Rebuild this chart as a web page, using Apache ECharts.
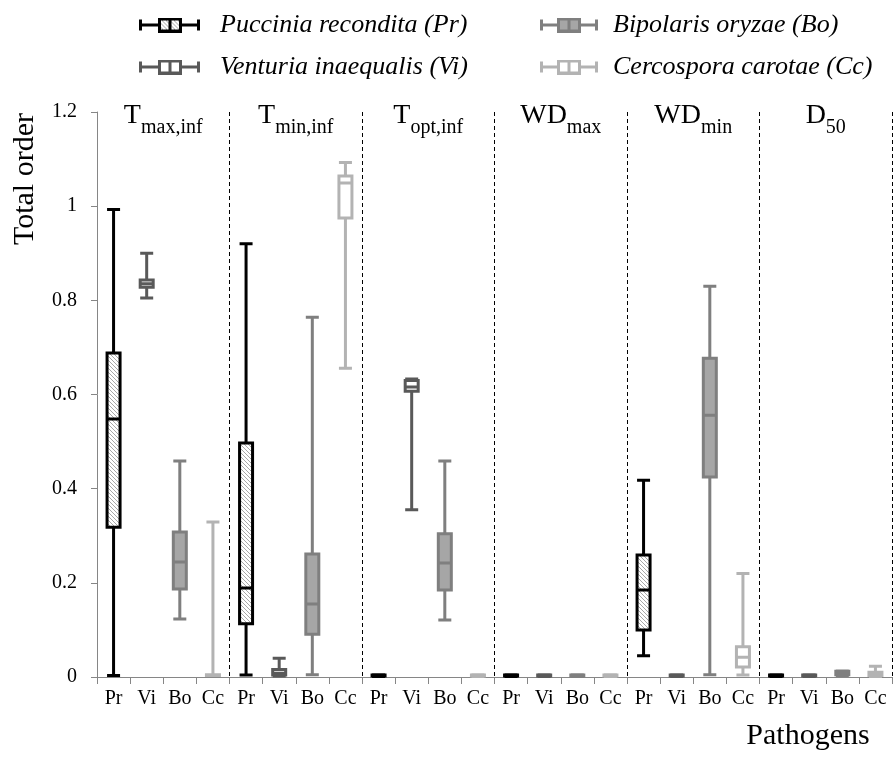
<!DOCTYPE html>
<html><head><meta charset="utf-8">
<script src="https://cdn.jsdelivr.net/npm/echarts@6/dist/echarts.min.js"></script>
<style>html,body{margin:0;padding:0;background:#fff}#c{width:896px;height:758px}</style>
</head><body><div id="c"></div>
<script>
// ---- data ----
const paramMain = ['T', 'T', 'T', 'WD', 'WD', 'D'];
const paramSub = ['max,inf', 'min,inf', 'opt,inf', 'max', 'min', '50'];
const pathogenCodes = ['Pr', 'Vi', 'Bo', 'Cc'];
const pathogenNames = ['Puccinia recondita (Pr)', 'Venturia inaequalis (Vi)', 'Bipolaris oryzae (Bo)', 'Cercospora carotae (Cc)'];
const yTicks = [0, 0.2, 0.4, 0.6, 0.8, 1, 1.2];
// five-number summaries [min, Q1, median, Q3, max] per parameter
const prBoxes = [
  [0.003, 0.318, 0.548, 0.688, 0.993],
  [0.004, 0.113, 0.189, 0.497, 0.920],
  [0.001, 0.002, 0.003, 0.004, 0.005],
  [0.001, 0.002, 0.003, 0.004, 0.005],
  [0.045, 0.100, 0.185, 0.259, 0.418],
  [0.001, 0.002, 0.003, 0.004, 0.005]
];
const viBoxes = [
  [0.805, 0.828, 0.835, 0.843, 0.900],
  [0.002, 0.004, 0.008, 0.016, 0.040],
  [0.355, 0.607, 0.616, 0.630, 0.633],
  [0.001, 0.002, 0.003, 0.004, 0.005],
  [0.001, 0.002, 0.003, 0.004, 0.005],
  [0.001, 0.002, 0.003, 0.004, 0.005]
];
const boBoxes = [
  [0.123, 0.187, 0.244, 0.308, 0.459],
  [0.005, 0.091, 0.155, 0.261, 0.764],
  [0.121, 0.185, 0.242, 0.304, 0.459],
  [0.001, 0.002, 0.003, 0.004, 0.005],
  [0.005, 0.425, 0.556, 0.677, 0.830],
  [0.003, 0.005, 0.008, 0.012, 0.013]
];
const ccBoxes = [
  [0.003, 0.003, 0.004, 0.005, 0.329],
  [0.656, 0.975, 1.049, 1.064, 1.093],
  [0.001, 0.002, 0.003, 0.004, 0.005],
  [0.001, 0.002, 0.003, 0.004, 0.005],
  [0.004, 0.021, 0.042, 0.064, 0.220],
  [0.001, 0.003, 0.006, 0.010, 0.023]
];
const boxesByPathogen = [prBoxes, viBoxes, boBoxes, ccBoxes];

// ---- styles ----
const FONT = '"Liberation Serif", "Times New Roman", serif';
function hatchTile() {
  const c = document.createElement('canvas'); c.width = 4; c.height = 4;
  const ctx = c.getContext('2d');
  ctx.fillStyle = '#ffffff'; ctx.fillRect(0, 0, 4, 4);
  ctx.fillStyle = '#a8a8a8';
  for (let i = 0; i < 4; i++) ctx.fillRect(i, i, 1, 1);
  return c;
}
const tile = hatchTile();
const strokes = ['#000000', '#595959', '#7f7f7f', '#b3b3b3'];
const fills = [{ image: tile, repeat: 'repeat' }, '#ffffff', '#a6a6a6', '#ffffff'];

function legendIcon(k, canvasW, iconW) {
  const c = document.createElement('canvas'); c.width = canvasW; c.height = 15;
  const ctx = c.getContext('2d');
  const col = strokes[k];
  const bx = Math.round(iconW / 2 - 11);
  ctx.fillStyle = col;
  ctx.fillRect(0, 2, 3, 11);            // left cap
  ctx.fillRect(0, 6, iconW, 3);         // whisker line
  ctx.fillRect(iconW - 3, 2, 3, 11);    // right cap
  if (k === 0) ctx.fillStyle = ctx.createPattern(tile, 'repeat');
  else ctx.fillStyle = k === 2 ? '#a6a6a6' : '#ffffff';
  ctx.fillRect(bx, 1, 22, 13);
  ctx.strokeStyle = col; ctx.lineWidth = 3;
  ctx.strokeRect(bx + 0.5, 1.5, 21, 12);
  ctx.fillStyle = col;
  ctx.fillRect(bx + 9.5, 1, 3, 13);
  return 'image://' + c.toDataURL();
}

// ---- build ----
const categories = [];
const boxData = [];
for (let g = 0; g < paramMain.length; g++) {
  for (let k = 0; k < pathogenCodes.length; k++) {
    categories.push(paramMain[g] + paramSub[g] + '|' + pathogenCodes[k]);
    boxData.push({
      value: boxesByPathogen[k][g],
      itemStyle: { color: fills[k], borderColor: strokes[k], borderWidth: 3 }
    });
  }
}
const titleCats = paramMain.map((m, i) => m + '|' + paramSub[i]);

const legendText = { fontFamily: FONT, fontStyle: 'italic', fontSize: 26, color: '#000' };
const chart = echarts.init(document.getElementById('c'), null, { renderer: 'canvas' });
chart.setOption({
  animation: false,
  backgroundColor: '#ffffff',
  textStyle: { fontFamily: FONT },
  grid: { left: 97, right: 4, top: 112, bottom: 81 },
  legend: [
    {
      left: 134, top: 7, orient: 'vertical', itemGap: 16,
      itemWidth: 76, itemHeight: 15, selectedMode: false,
      textStyle: legendText,
      data: [{ name: pathogenNames[0], icon: legendIcon(0, 76, 61) }, { name: pathogenNames[1], icon: legendIcon(1, 76, 61) }]
    },
    {
      left: 535, top: 7, orient: 'vertical', itemGap: 16,
      itemWidth: 68, itemHeight: 15, selectedMode: false,
      textStyle: legendText,
      data: [{ name: pathogenNames[2], icon: legendIcon(2, 68, 58) }, { name: pathogenNames[3], icon: legendIcon(3, 68, 58) }]
    }
  ],
  xAxis: [
    {
      type: 'category', data: categories, boundaryGap: true,
      axisLine: { lineStyle: { color: '#868686', width: 1 } },
      axisTick: { show: true, length: 7, interval: 0, lineStyle: { color: '#868686' } },
      axisLabel: {
        interval: 0, margin: 12, fontSize: 20, color: '#000', fontFamily: FONT,
        formatter: v => v.split('|')[1]
      },
      splitLine: {
        show: true,
        interval: (i) => i > 0 && i % 4 === 0,
        lineStyle: { color: '#000', type: [4, 3], width: 1 }
      }
    },
    {
      type: 'category', data: titleCats, position: 'top', offset: 10, boundaryGap: true,
      axisLine: { show: false }, axisTick: { show: false }, splitLine: { show: false },
      axisLabel: {
        inside: true, margin: 0, interval: 0, color: '#000',
        formatter: v => { const p = v.split('|'); return '{m|' + p[0] + '}{s|' + p[1] + '}'; },
        rich: {
          m: { fontSize: 28, lineHeight: 28, fontFamily: FONT, color: '#000', verticalAlign: 'top' },
          s: { fontSize: 20, lineHeight: 52, fontFamily: FONT, color: '#000', verticalAlign: 'middle' }
        }
      }
    }
  ],
  yAxis: {
    type: 'value', min: yTicks[0], max: yTicks[yTicks.length - 1], interval: 0.2,
    axisLine: { show: true, lineStyle: { color: '#868686', width: 1 } },
    axisTick: { show: true, length: 6, lineStyle: { color: '#868686' } },
    axisLabel: { fontSize: 20, color: '#000', margin: 20, fontFamily: FONT },
    splitLine: { show: false }
  },
  graphic: [
    { type: 'text', x: 25, y: 179, rotation: Math.PI / 2,
      style: { text: 'Total order', font: '30px ' + FONT, textAlign: 'center', textVerticalAlign: 'middle', align: 'center', verticalAlign: 'middle', fill: '#000' } },
    { type: 'text', x: 808, y: 736,
      style: { text: 'Pathogens', font: '30px ' + FONT, textAlign: 'center', textVerticalAlign: 'middle', align: 'center', verticalAlign: 'middle', fill: '#000' } }
  ],
  series: [
    {
      type: 'boxplot', name: 'boxes', xAxisIndex: 0, yAxisIndex: 0,
      boxWidth: [13, 13], data: boxData, silent: true,
      emphasis: { disabled: true }
    }
  ].concat(pathogenNames.map((n, k) => ({
    type: 'line', name: n, data: [], xAxisIndex: 0, itemStyle: { color: strokes[k] }
  })))
});
</script></body></html>
